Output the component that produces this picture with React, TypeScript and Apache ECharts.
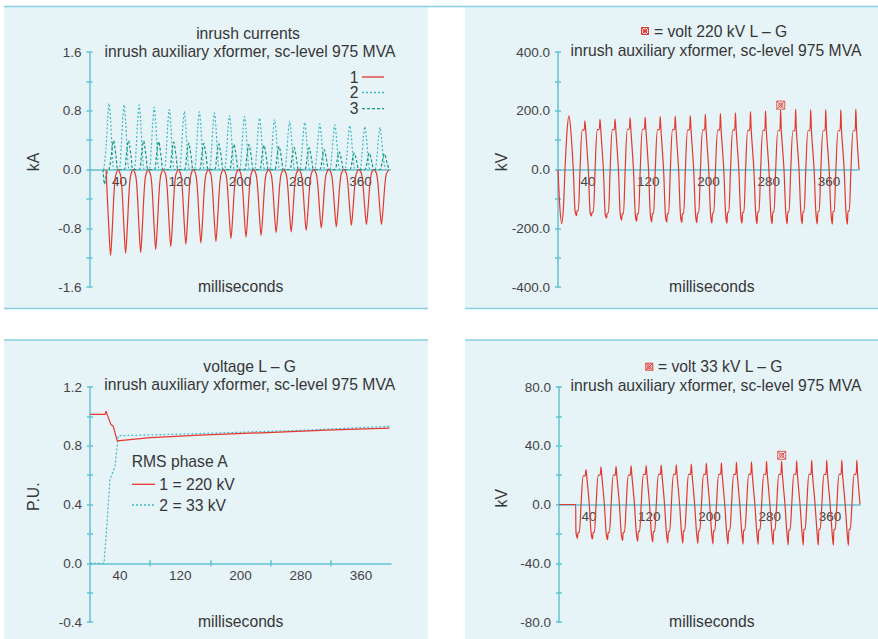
import React, { useEffect, useRef } from "react";
import * as echarts from "echarts";

// ---------- Panel 1: inrush currents (kA) ----------
const I1_TROUGH_T = [28, 48, 68, 88, 108, 128, 148, 168, 188, 208, 228, 248, 268, 288, 308, 328, 348, 368, 388];
const I1_TROUGH = [-1.17, -1.14, -1.13, -1.09, -1.05, -1.02, -1.0, -0.98, -0.94, -0.92, -0.9, -0.86, -0.85, -0.83, -0.8, -0.78, -0.76, -0.75, -0.75];
const I1_PULSE = [[-10, 0], [-6.5, 0.08], [-4.4, 0.3], [-2.2, 0.7], [0, 1], [2.2, 0.7], [4.4, 0.3], [6.5, 0.08]];
const I2_PEAK_T = [26, 46, 66, 86, 106, 126, 146, 166, 186, 206, 226, 246, 266, 286, 306, 326, 346, 366, 386];
const I2_PEAK = [0.9, 0.88, 0.88, 0.845, 0.815, 0.79, 0.785, 0.77, 0.735, 0.72, 0.7, 0.68, 0.66, 0.64, 0.62, 0.607, 0.598, 0.585, 0.575];
const I2_PULSE = [[-7, 0], [-4, 0.33], [-2, 0.75], [0, 1], [2, 0.75], [4, 0.33], [7, 0]];
const I3_PEAK_T = [32, 52, 72, 92, 112, 132, 152, 172, 192, 212, 232, 252, 272, 292, 312, 332, 352, 372, 392];
const I3_PEAK = [0.395, 0.395, 0.39, 0.38, 0.373, 0.36, 0.355, 0.35, 0.345, 0.34, 0.33, 0.315, 0.3, 0.295, 0.27, 0.24, 0.225, 0.225, 0.215];
const I3_PULSE = [[-6, 0], [-3, 0.5], [-1.2, 0.9], [0, 1], [1.5, 0.8], [3.5, 0.4], [6, 0]];
const I3_START = [[18, 0], [20, -0.2], [23, -0.05]];
const Y1_LABELS = [-1.6, -0.8, 0, 0.8, 1.6];
const Y1_TICKS = [-1.6, -1.2, -0.8, -0.4, 0, 0.4, 0.8, 1.2, 1.6];

// ---------- Panels 2 & 4: voltage waveforms (kV) ----------
const CYCLE_T = [20, 40, 60, 80, 100, 120, 140, 160, 180, 200, 220, 240, 260, 280, 300, 320, 340, 360, 380];
// zero, trough shoulder, trough spike, trough shoulder, trough shoulder, zero, peak shoulder, peak shoulder, peak spike, peak shoulder
const WAVE_OFFSETS = [0.3, 2.6, 4.5, 5.5, 6.9, 9.3, 12.3, 14.6, 15.8, 16.8];
const V220_START = [[0, 0], [2.5, -130], [4.9, -184], [7.2, -130], [9.3, 0], [12, 130], [14.6, 183], [17.1, 130]];
const V220_POS_SHOULDER = [134, 136, 136, 137, 137, 136, 136, 135, 135, 134, 134, 133, 133, 132, 132, 132, 132, 132, 132];
const V220_POS_SPIKE = [166, 171, 172, 177, 178, 180, 182, 183, 188, 190, 193, 197, 200, 203, 206, 204, 204, 203, 206];
const V220_NEG_SHOULDER = [-140, -145, -148, -150, -150, -150, -150, -150, -148, -148, -146, -146, -145, -145, -144, -144, -143, -143, -142];
const V220_NEG_SPIKE = [-157, -158, -166, -172, -176, -178, -179, -180, -181, -182, -183, -183, -184, -184, -185, -185, -185, -186, -186];
const V220_MARKER = [[296, 219]];
const Y2_LABELS = [-400, -200, 0, 200, 400];
const Y2_TICKS = [-400, -300, -200, -100, 0, 100, 200, 300, 400];

const V33_START = [[0, 0], [22, 0]];
const V33_POS_SHOULDER = [19.5, 20, 20, 20, 20.5, 20.5, 20.5, 20.5, 20.5, 20.5, 20.5, 20.5, 20.5, 20.5, 20.5, 20.5, 20.5, 20.5, 20.5];
const V33_POS_SPIKE = [23.8, 25.6, 26, 26.3, 26.5, 26.8, 27, 27.5, 28, 28.3, 28.7, 29, 29.3, 29.5, 29.8, 30, 30, 30, 30];
const V33_NEG_SHOULDER = [-19, -19, -19, -19, -18.5, -18.5, -18.5, -18, -18, -18, -18, -17.5, -17.5, -17.5, -17.5, -17, -17, -17, -17];
const V33_NEG_SPIKE = [-23.2, -23.5, -24, -24.5, -25, -25.5, -26, -26.3, -26.5, -26.8, -27, -27, -27.2, -27.4, -27.5, -27.6, -27.7, -27.8, -27.8];
const V33_MARKER = [[296, 33.5]];
const Y4_LABELS = [-80, -40, 0, 40, 80];
const Y4_TICKS = [-80, -60, -40, -20, 0, 20, 40, 60, 80];

// ---------- Panel 3: RMS voltage (P.U.) ----------
const RMS_220 = [[0, 1.014], [20, 1.014], [21.2, 1.035], [23, 1.01], [27.8, 0.944], [30.9, 0.933], [36.2, 0.833], [80, 0.855], [146, 0.872], [235, 0.89], [323, 0.908], [398, 0.92]];
const RMS_33 = [[0, 0], [18.6, 0], [22.9, 0.29], [26.5, 0.57], [33.2, 0.656], [37.6, 0.868], [146, 0.883], [280, 0.905], [398, 0.932]];
const Y3_LABELS = [-0.4, 0, 0.4, 0.8, 1.2];
const Y3_TICKS = [-0.4, -0.2, 0, 0.2, 0.4, 0.6, 0.8, 1.0, 1.2];

const X_LABELS = [40, 120, 200, 280, 360];
const X3_TICKS = [80, 160, 240, 320];

// ---------- styles ----------
const FONT = "'Liberation Sans', Arial, Helvetica, sans-serif";
const RED = "#e5372b";
const CYAN = "#3cb8c9";
const GREEN = "#14977e";
const AXIS = "#63c3d6";
const BG = "#e6f3f7";
const BORDER = "#86d0e1";
const TEXT = "#363636";
const LABEL = "#444444";

function pulses(times: number[], peaks: number[], shape: number[][], after: number) {
  const out: number[][] = [];
  times.forEach((t, i) => {
    shape.forEach(([dt, f]) => {
      const x = t + dt;
      if (x > after) out.push([x, +(f * peaks[i]).toFixed(4)]);
    });
  });
  return out;
}

function wave(start: number[][], posSh: number[], posSp: number[], negSh: number[], negSp: number[], after: number) {
  const out: number[][] = start.slice();
  CYCLE_T.forEach((T, k) => {
    const vals = [0, negSh[k], negSp[k], negSh[k], negSh[k], 0, posSh[k], posSh[k], posSp[k], posSh[k]];
    WAVE_OFFSETS.forEach((dt, j) => {
      const x = T + dt;
      if (x > after) out.push([x, vals[j]]);
    });
  });
  out.push([400, 0]);
  return out;
}

const MARKER_PATH = "path://M0,0H10V10H0Z M0,0L10,10 M10,0L0,10 M7.6,5A2.6,2.6,0,1,1,2.4,5A2.6,2.6,0,1,1,7.6,5";

const GRIDS = [
  { left: 89.5, top: 52, width: 301, height: 235 },
  { left: 558, top: 52, width: 301, height: 235 },
  { left: 90, top: 387, width: 301, height: 235 },
  { left: 559, top: 387, width: 301, height: 235 },
];

function xAxes(gi: number, offset: number, ticks: number[] | null) {
  const main: any = {
    type: "value", gridIndex: gi, min: 0, max: 400, position: "bottom", offset,
    axisLine: { show: true, onZero: false, lineStyle: { color: AXIS, width: 1.5 } },
    axisTick: ticks ? { show: true, customValues: ticks, length: 3, lineStyle: { color: AXIS, width: 1.5 } } : { show: false },
    axisLabel: { customValues: X_LABELS, color: LABEL, fontSize: 13.5, fontFamily: FONT, margin: 5 },
    splitLine: { show: false },
  };
  const list = [main];
  if (ticks) {
    list.push({
      type: "value", gridIndex: gi, min: 0, max: 400, position: "bottom", offset,
      axisLine: { show: false, onZero: false },
      axisTick: { show: true, inside: true, customValues: ticks, length: 3, lineStyle: { color: AXIS, width: 1.5 } },
      axisLabel: { show: false }, splitLine: { show: false },
    });
  }
  return list;
}

function yAxes(gi: number, min: number, max: number, labels: number[], ticks: number[]) {
  return [
    {
      type: "value", gridIndex: gi, min, max, position: "left",
      axisLine: { show: true, onZero: false, lineStyle: { color: AXIS, width: 1.5 } },
      axisTick: { show: true, customValues: ticks, length: 3, lineStyle: { color: AXIS, width: 1.5 } },
      axisLabel: { customValues: labels, formatter: (v: number) => v.toFixed(1), color: LABEL, fontSize: 13.5, fontFamily: FONT, margin: 8 },
      splitLine: { show: false },
    },
    {
      type: "value", gridIndex: gi, min, max, position: "left",
      axisLine: { show: false, onZero: false },
      axisTick: { show: true, inside: true, customValues: ticks, length: 3, lineStyle: { color: AXIS, width: 1.5 } },
      axisLabel: { show: false }, splitLine: { show: false },
    },
  ];
}

function txt(x: number, y: number, text: string, align = "center", rotation = 0, size = 15.7) {
  return {
    type: "text", x, y, rotation, z: 20,
    style: { text, fill: TEXT, fontSize: size, fontFamily: FONT, align, verticalAlign: "middle" },
  };
}

function glyph(x: number, y: number) {
  const st = { stroke: RED, fill: "transparent", lineWidth: 1 };
  return {
    type: "group", x, y, z: 20,
    children: [
      { type: "rect", shape: { x: -3.5, y: -3.5, width: 7, height: 7 }, style: st },
      { type: "line", shape: { x1: -3.5, y1: -3.5, x2: 3.5, y2: 3.5 }, style: st },
      { type: "line", shape: { x1: 3.5, y1: -3.5, x2: -3.5, y2: 3.5 }, style: st },
      { type: "circle", shape: { cx: 0, cy: 0, r: 1.9 }, style: st },
    ],
  };
}

function hline(x1: number, x2: number, y: number, color: string, dash: number[] | null, width = 1.3) {
  return {
    type: "line", z: 20, shape: { x1, y1: y, x2, y2: y },
    style: { stroke: color, lineWidth: width, lineDash: dash || undefined },
  };
}

const SUB = "inrush auxiliary xformer, sc-level 975 MVA";

export default function App() {
  const ref = useRef<HTMLDivElement>(null);
  useEffect(() => {
    if (!ref.current) return;
    const chart = echarts.init(ref.current, undefined, { renderer: "svg" });

    const i1 = [[22, 0], ...pulses(I1_TROUGH_T, I1_TROUGH, I1_PULSE, 22), [398, 0]];
    const i2 = pulses(I2_PEAK_T, I2_PEAK, I2_PULSE, 0);
    const i3 = [...I3_START, ...pulses(I3_PEAK_T, I3_PEAK, I3_PULSE, 23)];
    const v220 = wave(V220_START, V220_POS_SHOULDER, V220_POS_SPIKE, V220_NEG_SHOULDER, V220_NEG_SPIKE, 17.1);
    const v33 = wave(V33_START, V33_POS_SHOULDER, V33_POS_SPIKE, V33_NEG_SHOULDER, V33_NEG_SPIKE, 22);

    const x = [
      ...xAxes(0, -117.5, null),
      ...xAxes(1, -117.5, null),
      ...xAxes(2, -58.75, X3_TICKS),
      ...xAxes(3, -117.5, null),
    ];
    // x indices: 0 (g0), 1 (g1), 2,3 (g2), 4 (g3)
    const y = [
      ...yAxes(0, -1.6, 1.6, Y1_LABELS, Y1_TICKS),
      ...yAxes(1, -400, 400, Y2_LABELS, Y2_TICKS),
      ...yAxes(2, -0.4, 1.2, Y3_LABELS, Y3_TICKS),
      ...yAxes(3, -80, 80, Y4_LABELS, Y4_TICKS),
    ];
    // y indices: 0 (g0), 2 (g1), 4 (g2), 6 (g3)

    const line = (data: number[][], xi: number, yi: number, color: string, type: any, smooth: number, width = 1.2) => ({
      type: "line", xAxisIndex: xi, yAxisIndex: yi, data, showSymbol: false, symbol: "none",
      smooth, lineStyle: { color, width, type }, z: 3, silent: true,
    });

    const option: any = {
      animation: false,
      backgroundColor: "#ffffff",
      grid: GRIDS,
      xAxis: x,
      yAxis: y,
      series: [
        line(i2, 0, 0, CYAN, [2, 2], 0.3),
        line(i3, 0, 0, GREEN, [3, 2], 0.3),
        line(i1, 0, 0, RED, "solid", 0.3),
        line(v220, 1, 2, RED, "solid", 0.3),
        {
          type: "scatter", xAxisIndex: 1, yAxisIndex: 2, data: V220_MARKER, symbol: MARKER_PATH, symbolSize: 8,
          itemStyle: { color: "rgba(0,0,0,0)", borderColor: RED, borderWidth: 1 }, z: 5, silent: true,
        },
        line(RMS_33, 2, 4, CYAN, [2, 2], 0),
        line(RMS_220, 2, 4, RED, "solid", 0),
        line(v33, 4, 6, RED, "solid", 0.3),
        {
          type: "scatter", xAxisIndex: 4, yAxisIndex: 6, data: V33_MARKER, symbol: MARKER_PATH, symbolSize: 8,
          itemStyle: { color: "rgba(0,0,0,0)", borderColor: RED, borderWidth: 1 }, z: 5, silent: true,
        },
      ],
      graphic: [
        { type: "rect", z: -10, shape: { x: 4, y: 7, width: 424, height: 301 }, style: { fill: BG } },
        { type: "rect", z: -10, shape: { x: 465, y: 7, width: 413, height: 301 }, style: { fill: BG } },
        { type: "rect", z: -10, shape: { x: 4, y: 340, width: 424, height: 299 }, style: { fill: BG } },
        { type: "rect", z: -10, shape: { x: 465, y: 340, width: 413, height: 299 }, style: { fill: BG } },
        hline(4, 878, 6.5, BORDER, null, 1.5),
        hline(4, 428, 308.5, BORDER, null, 1.5),
        hline(465, 878, 308.5, BORDER, null, 1.5),
        hline(4, 428, 340, BORDER, null, 1.5),
        hline(465, 878, 340, BORDER, null, 1.5),
        // panel 1
        txt(248, 33, "inrush currents"),
        txt(250, 51, SUB),
        txt(33, 162, "kA", "center", Math.PI / 2),
        txt(240.7, 286, "milliseconds"),
        txt(354, 77, "1"),
        txt(354, 92.5, "2"),
        txt(354, 108.7, "3"),
        hline(362, 384, 77, RED, null, 1.3),
        hline(362, 384, 92.5, CYAN, [2, 2], 1.3),
        hline(362, 384, 108.7, GREEN, [3, 2], 1.3),
        // panel 2
        glyph(645, 31),
        txt(654, 31, "= volt 220 kV L – G", "left"),
        txt(716, 50, SUB),
        txt(501.7, 162, "kV", "center", Math.PI / 2),
        txt(711.8, 286, "milliseconds"),
        // panel 3
        txt(249.7, 366, "voltage L – G"),
        txt(249.7, 384.3, SUB),
        txt(33, 496.7, "P.U.", "center", Math.PI / 2),
        txt(240.7, 621, "milliseconds"),
        txt(131.7, 461.7, "RMS phase A", "left"),
        hline(132, 155, 484.3, RED, null, 1.3),
        txt(159.3, 484.3, "1 = 220 kV", "left"),
        hline(132, 155, 505, CYAN, [2, 2], 1.3),
        txt(159.3, 505, "2 = 33 kV", "left"),
        // panel 4
        glyph(649.3, 366.7),
        txt(658, 366.7, "= volt 33 kV L – G", "left"),
        txt(716, 385.7, SUB),
        txt(501.7, 498.3, "kV", "center", Math.PI / 2),
        txt(711.8, 621.7, "milliseconds"),
      ],
    };
    chart.setOption(option);
    return () => chart.dispose();
  }, []);
  return <div ref={ref} style={{ position: "fixed", left: 0, top: 0, width: 878, height: 639 }} />;
}
